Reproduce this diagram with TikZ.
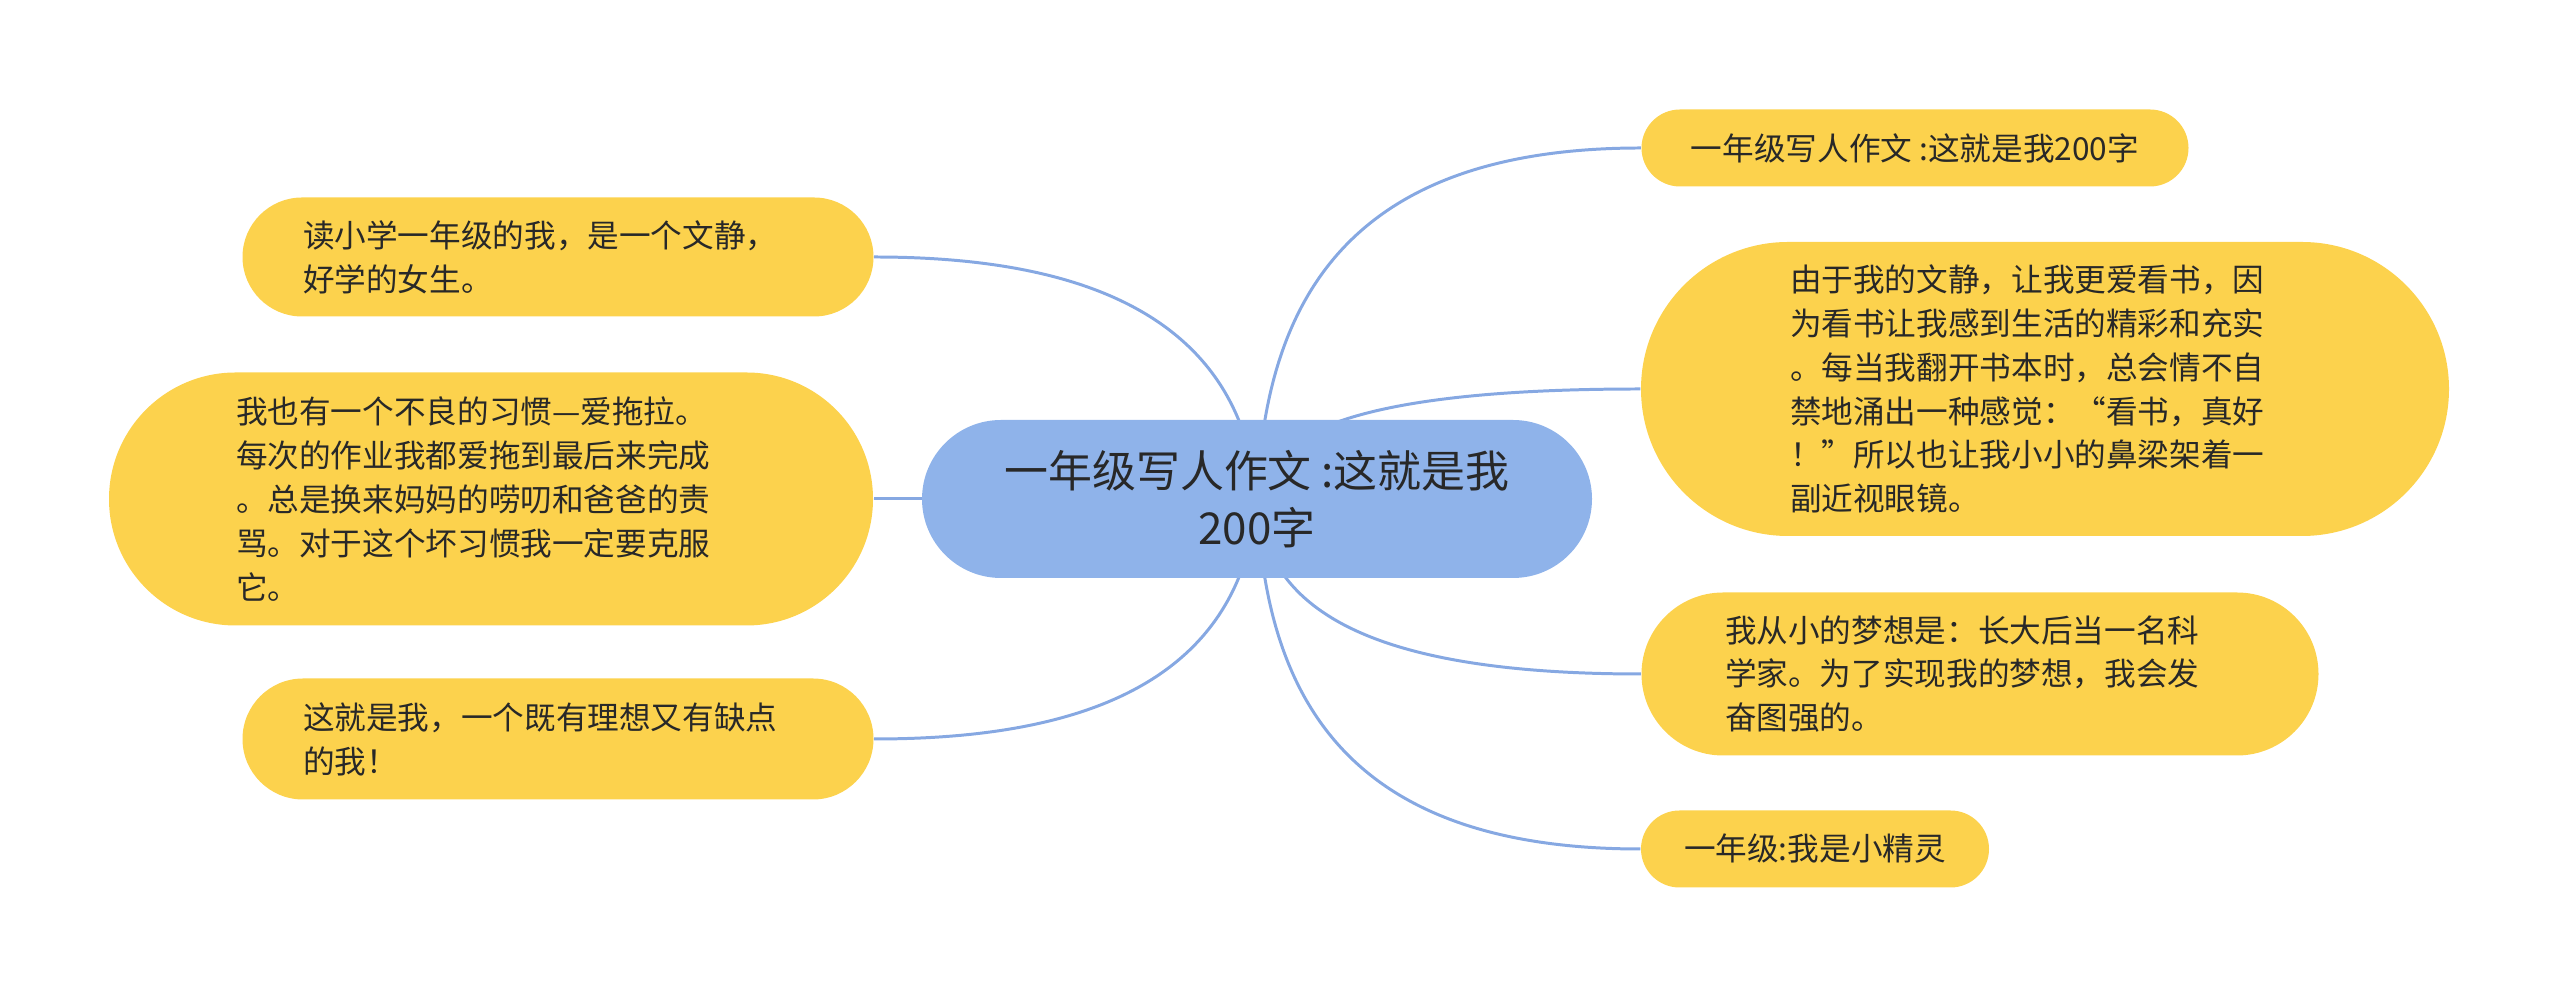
\documentclass[tikz,border=0pt]{standalone}
\usepackage{fontspec}
\setmainfont{Noto Sans CJK SC}
\usetikzlibrary{shapes.misc,calc,backgrounds}
\definecolor{mainblue}{RGB}{143,179,234}
\definecolor{lineblue}{RGB}{134,168,226}
\definecolor{leafyellow}{RGB}{252,210,77}
\definecolor{inkgray}{RGB}{40,40,40}

\begin{document}
\begin{tikzpicture}[
  topicbox/.style={rounded rectangle, fill=mainblue, text=inkgray, align=center, inner sep=0pt,
    font=\fontsize{12.5pt}{16.2pt}\selectfont},
  leafbox/.style={rounded rectangle, fill=leafyellow, text=inkgray, align=center, inner sep=0pt,
    font=\fontsize{9pt}{12.5pt}\selectfont},
  textbox/.style={leafbox, text width=5.1cm, align=left},
  branch/.style={draw=lineblue, line width=0.85pt}
]
\useasboundingbox (0,0) rectangle (25.6,9.99);
\node[topicbox, minimum width=6.70cm, minimum height=1.58cm] (main) at (12.57,5.00) {一年级写人作文 :这就是我\\200字};
% right side
\node[leafbox, minimum width=5.47cm, minimum height=0.77cm] (r1) at (19.15,8.51) {一年级写人作文 :这就是我200字};
\node[textbox, minimum width=8.08cm, minimum height=2.94cm] (r2) at (20.45,6.10) {由于我的文静，让我更爱看书，因\\为看书让我感到生活的精彩和充实\\。每当我翻开书本时，总会情不自\\禁地涌出一种感觉：“看书，真好\\！”所以也让我小小的鼻梁架着一\\副近视眼镜。};
\node[textbox, minimum width=6.77cm, minimum height=1.63cm] (r3) at (19.80,3.25) {我从小的梦想是：长大后当一名科\\学家。为了实现我的梦想，我会发\\奋图强的。};
\node[leafbox, minimum width=3.48cm, minimum height=0.77cm] (r4) at (18.15,1.50) {一年级:我是小精灵};
% left side
\node[textbox, minimum width=6.31cm, minimum height=1.19cm] (l1) at (5.58,7.42) {读小学一年级的我，是一个文静，\\好学的女生。};
\node[textbox, minimum width=7.64cm, minimum height=2.53cm] (l2) at (4.91,5.00) {我也有一个不良的习惯—爱拖拉。\\每次的作业我都爱拖到最后来完成\\。总是换来妈妈的唠叨和爸爸的责\\骂。对于这个坏习惯我一定要克服\\它。};
\node[textbox, minimum width=6.31cm, minimum height=1.21cm] (l3) at (5.58,2.60) {这就是我，一个既有理想又有缺点\\的我！};

\begin{scope}[on background layer]
\draw[branch] (main.center) .. controls ($(main.center)+(0.08,2)$) and ($(r1.west)+(-2.91,0)$) .. (r1.west);
\draw[branch] (main.center) .. controls ($(main.center)+(0.08,0.63)$) and ($(r2.west)+(-2.92,0)$) .. (r2.west);
\draw[branch] (main.center) .. controls ($(main.center)+(0.08,-1)$) and ($(r3.west)+(-2.92,0)$) .. (r3.west);
\draw[branch] (main.center) .. controls ($(main.center)+(0.08,-2)$) and ($(r4.west)+(-2.92,0)$) .. (r4.west);
\draw[branch] (main.center) .. controls ($(main.center)+(-0.17,2)$) and ($(l1.east)+(1.77,0)$) .. (l1.east);
\draw[branch] (main.center) -- (l2.east);
\draw[branch] (main.center) .. controls ($(main.center)+(-0.17,-2)$) and ($(l3.east)+(1.77,0)$) .. (l3.east);
\end{scope}
\end{tikzpicture}
\end{document}
